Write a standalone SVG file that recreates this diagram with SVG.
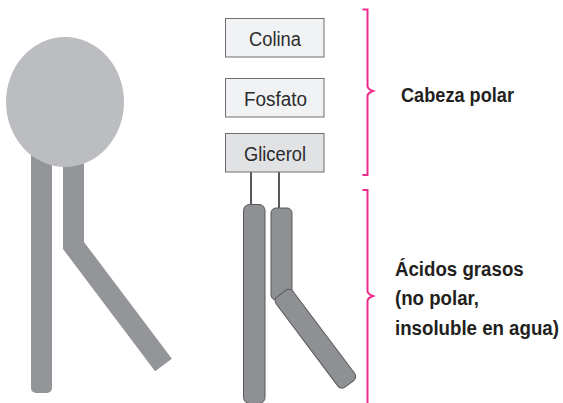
<svg xmlns="http://www.w3.org/2000/svg" width="563" height="403" viewBox="0 0 563 403">
  <style>
    .box { stroke: #6d6e71; stroke-width: 1; }
    .box-light { fill: #f1f2f3; }
    .box-dark { fill: #e1e2e4; }
    .box-text { font-family: "Liberation Sans", Arial, sans-serif; font-size: 20px; fill: #2b2b2d; text-anchor: middle; }
    .label { font-family: "Liberation Sans", Arial, sans-serif; font-size: 21px; font-weight: bold; fill: #231f20; }
    .chain { fill: #8f9093; stroke: #58595b; stroke-width: 1; }
    .bond { stroke: #58595b; stroke-width: 2; fill: none; }
    .brace { stroke: #ec2a8c; stroke-width: 2; fill: none; }
    .simple-tail { fill: #939598; }
  </style>

  <rect width="563" height="403" fill="#ffffff"/>

  <!-- Simplified phospholipid: head and two tails -->
  <g id="simple-molecule">
    <rect class="simple-tail" x="31" y="140" width="21" height="253" rx="5"/>
    <path d="M73.5,140 L73.5,245.5 L163.5,365" stroke="#939598" stroke-width="21" fill="none" stroke-linejoin="miter"/>
    <ellipse cx="65" cy="102" rx="59" ry="65" fill="#bcbdc0"/>
  </g>

  <!-- Connectors: glycerol to fatty acid chains -->
  <g id="connectors">
    <line class="bond" x1="251" y1="172" x2="251" y2="205"/>
    <line class="bond" x1="279" y1="172" x2="279" y2="209"/>
  </g>

  <!-- Head group nodes -->
  <g id="colina">
    <rect class="box box-light" x="225.5" y="18.5" width="98.5" height="38.5"/>
    <text class="box-text" x="275" y="45.5" textLength="52" lengthAdjust="spacingAndGlyphs">Colina</text>
  </g>
  <g id="fosfato">
    <rect class="box box-light" x="225.5" y="78.5" width="98.5" height="38.5"/>
    <text class="box-text" x="275.5" y="105.5" textLength="63" lengthAdjust="spacingAndGlyphs">Fosfato</text>
  </g>
  <g id="glicerol">
    <rect class="box box-dark" x="225.5" y="133.5" width="98.5" height="38.5"/>
    <text class="box-text" x="275" y="160.5" textLength="62" lengthAdjust="spacingAndGlyphs">Glicerol</text>
  </g>

  <!-- Fatty acid chains -->
  <g id="chain-straight">
    <rect class="chain" x="243.5" y="204.5" width="21.5" height="199" rx="6"/>
  </g>
  <g id="chain-bent">
    <rect class="chain" x="271" y="208" width="21" height="92" rx="5"/>
    <rect class="chain" transform="translate(281.5,293.5) rotate(-36.9)" x="-10.5" y="0" width="21" height="113" rx="5"/>
  </g>

  <!-- Braces -->
  <g id="brace-head">
    <path class="brace" d="M362.5,9.5 H367.5 V86 Q367.5,89 373,91 Q367.5,93 367.5,96 V175 H362.5"/>
  </g>
  <g id="brace-tails">
    <path class="brace" d="M362.5,190 H367.5 V291 Q367.5,294 373,296 Q367.5,298 367.5,301 V403"/>
  </g>

  <!-- Labels (horizontally condensed) -->
  <g id="label-head">
    <text class="label" x="401" y="101.5" textLength="113" lengthAdjust="spacingAndGlyphs">Cabeza polar</text>
  </g>
  <g id="label-tails" transform="translate(395,0) scale(0.89,1)">
    <text class="label" x="0" y="276.5">Ácidos grasos</text>
    <text class="label" x="0" y="305.5">(no polar,</text>
    <text class="label" x="0" y="335">insoluble en agua)</text>
  </g>
</svg>
